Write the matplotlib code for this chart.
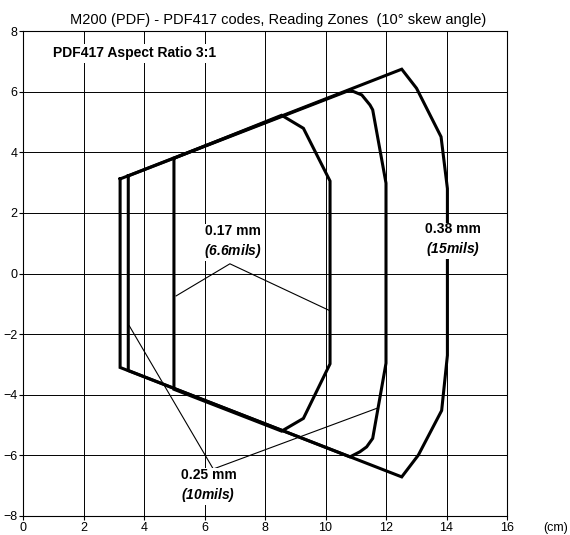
import matplotlib.pyplot as plt

plt.rcParams['font.family'] = ['Liberation Sans', 'DejaVu Sans']
plt.rcParams['mathtext.fontset'] = 'custom'
plt.rcParams['mathtext.rm'] = 'Liberation Sans'
plt.rcParams['mathtext.it'] = 'Liberation Sans:italic'
plt.rcParams['mathtext.bf'] = 'Liberation Sans:bold'
plt.rcParams['mathtext.bfit'] = 'Liberation Sans:italic:bold'

# reading zones (cm)
zone38_x = [3.21, 12.52, 13.01, 13.82, 14.03, 14.03, 13.84, 13.07, 12.52, 3.21, 3.21]
zone38_y = [3.12, 6.74, 6.11, 4.51, 2.80, -2.70, -4.52, -5.99, -6.71, -3.10, 3.12]

zone25_x = [3.48, 10.81, 11.20, 11.47, 11.56, 12.00, 12.00, 11.56, 11.36, 11.14, 10.81, 3.48, 3.48]
zone25_y = [3.22, 6.05, 5.89, 5.56, 5.40, 2.98, -2.96, -5.44, -5.72, -5.88, -6.05, -3.20, 3.22]

zone17_x = [4.99, 8.55, 9.27, 10.15, 10.15, 9.27, 8.55, 4.99, 4.99]
zone17_y = [3.80, 5.22, 4.79, 3.05, -2.98, -4.78, -5.20, -3.82, 3.80]

# leader lines for the labels
lead17_x = [5.06, 6.84, 10.15]
lead17_y = [-0.74, 0.32, -1.23]
lead25_x = [3.51, 6.29, 11.69]
lead25_y = [-1.72, -6.45, -4.45]

labels = ['0.17 mm', '0.38 mm', '0.25 mm']
mils = ['(6.6mils)', '(15mils)', '(10mils)']
label_x = [6.93, 14.2, 6.13]
label_y = [1.05, 1.10, -7.0]

yticks = [-8, -6, -4, -2, 0, 2, 4, 6, 8]
xticks = [0, 2, 4, 6, 8, 10, 12, 14, 16]

fig = plt.figure(figsize=(5.7, 5.35), dpi=100)
ax = fig.add_axes([23 / 570, 1 - 516 / 535, 484 / 570, 485 / 535])

ax.set_xlim(0, 16)
ax.set_ylim(-8, 8)
ax.set_xticks(xticks)
ax.set_yticks(yticks)
ax.tick_params(labelsize=9, length=3, width=0.8, pad=1)
ax.grid(True, color='k', linewidth=0.7)
for s in ax.spines.values():
    s.set_linewidth(0.8)

for zx, zy in [(zone38_x, zone38_y), (zone25_x, zone25_y), (zone17_x, zone17_y)]:
    ax.plot(zx, zy, color='k', linewidth=2.2, solid_joinstyle='miter', zorder=3)

ax.plot(lead17_x, lead17_y, color='k', linewidth=0.8, zorder=3)
ax.plot(lead25_x, lead25_y, color='k', linewidth=0.8, zorder=3)

for lab, mil, lx, ly in zip(labels, mils, label_x, label_y):
    ax.text(lx, ly, lab + '\n' + r'$\mathbfit{' + mil + '}$', ha='center', va='center',
            fontsize=10, fontweight='bold', linespacing=1.3,
            bbox=dict(facecolor='white', edgecolor='none', pad=1), zorder=5)

ax.text(1.0, 7.26, 'PDF417 Aspect Ratio 3:1', ha='left', va='center', fontsize=10,
        fontweight='bold', bbox=dict(facecolor='white', edgecolor='none', pad=2), zorder=5)

ax.annotate('(cm)', xy=(17.6, -8), xycoords='data', xytext=(0, -4), textcoords='offset points',
            ha='center', va='top', fontsize=9, annotation_clip=False)

fig.text(278 / 570, 1 - 20 / 535, 'M200 (PDF) - PDF417 codes, Reading Zones  (10\u00b0 skew angle)',
         ha='center', va='center', fontsize=10.5)

fig.savefig('out.png', dpi=100)
